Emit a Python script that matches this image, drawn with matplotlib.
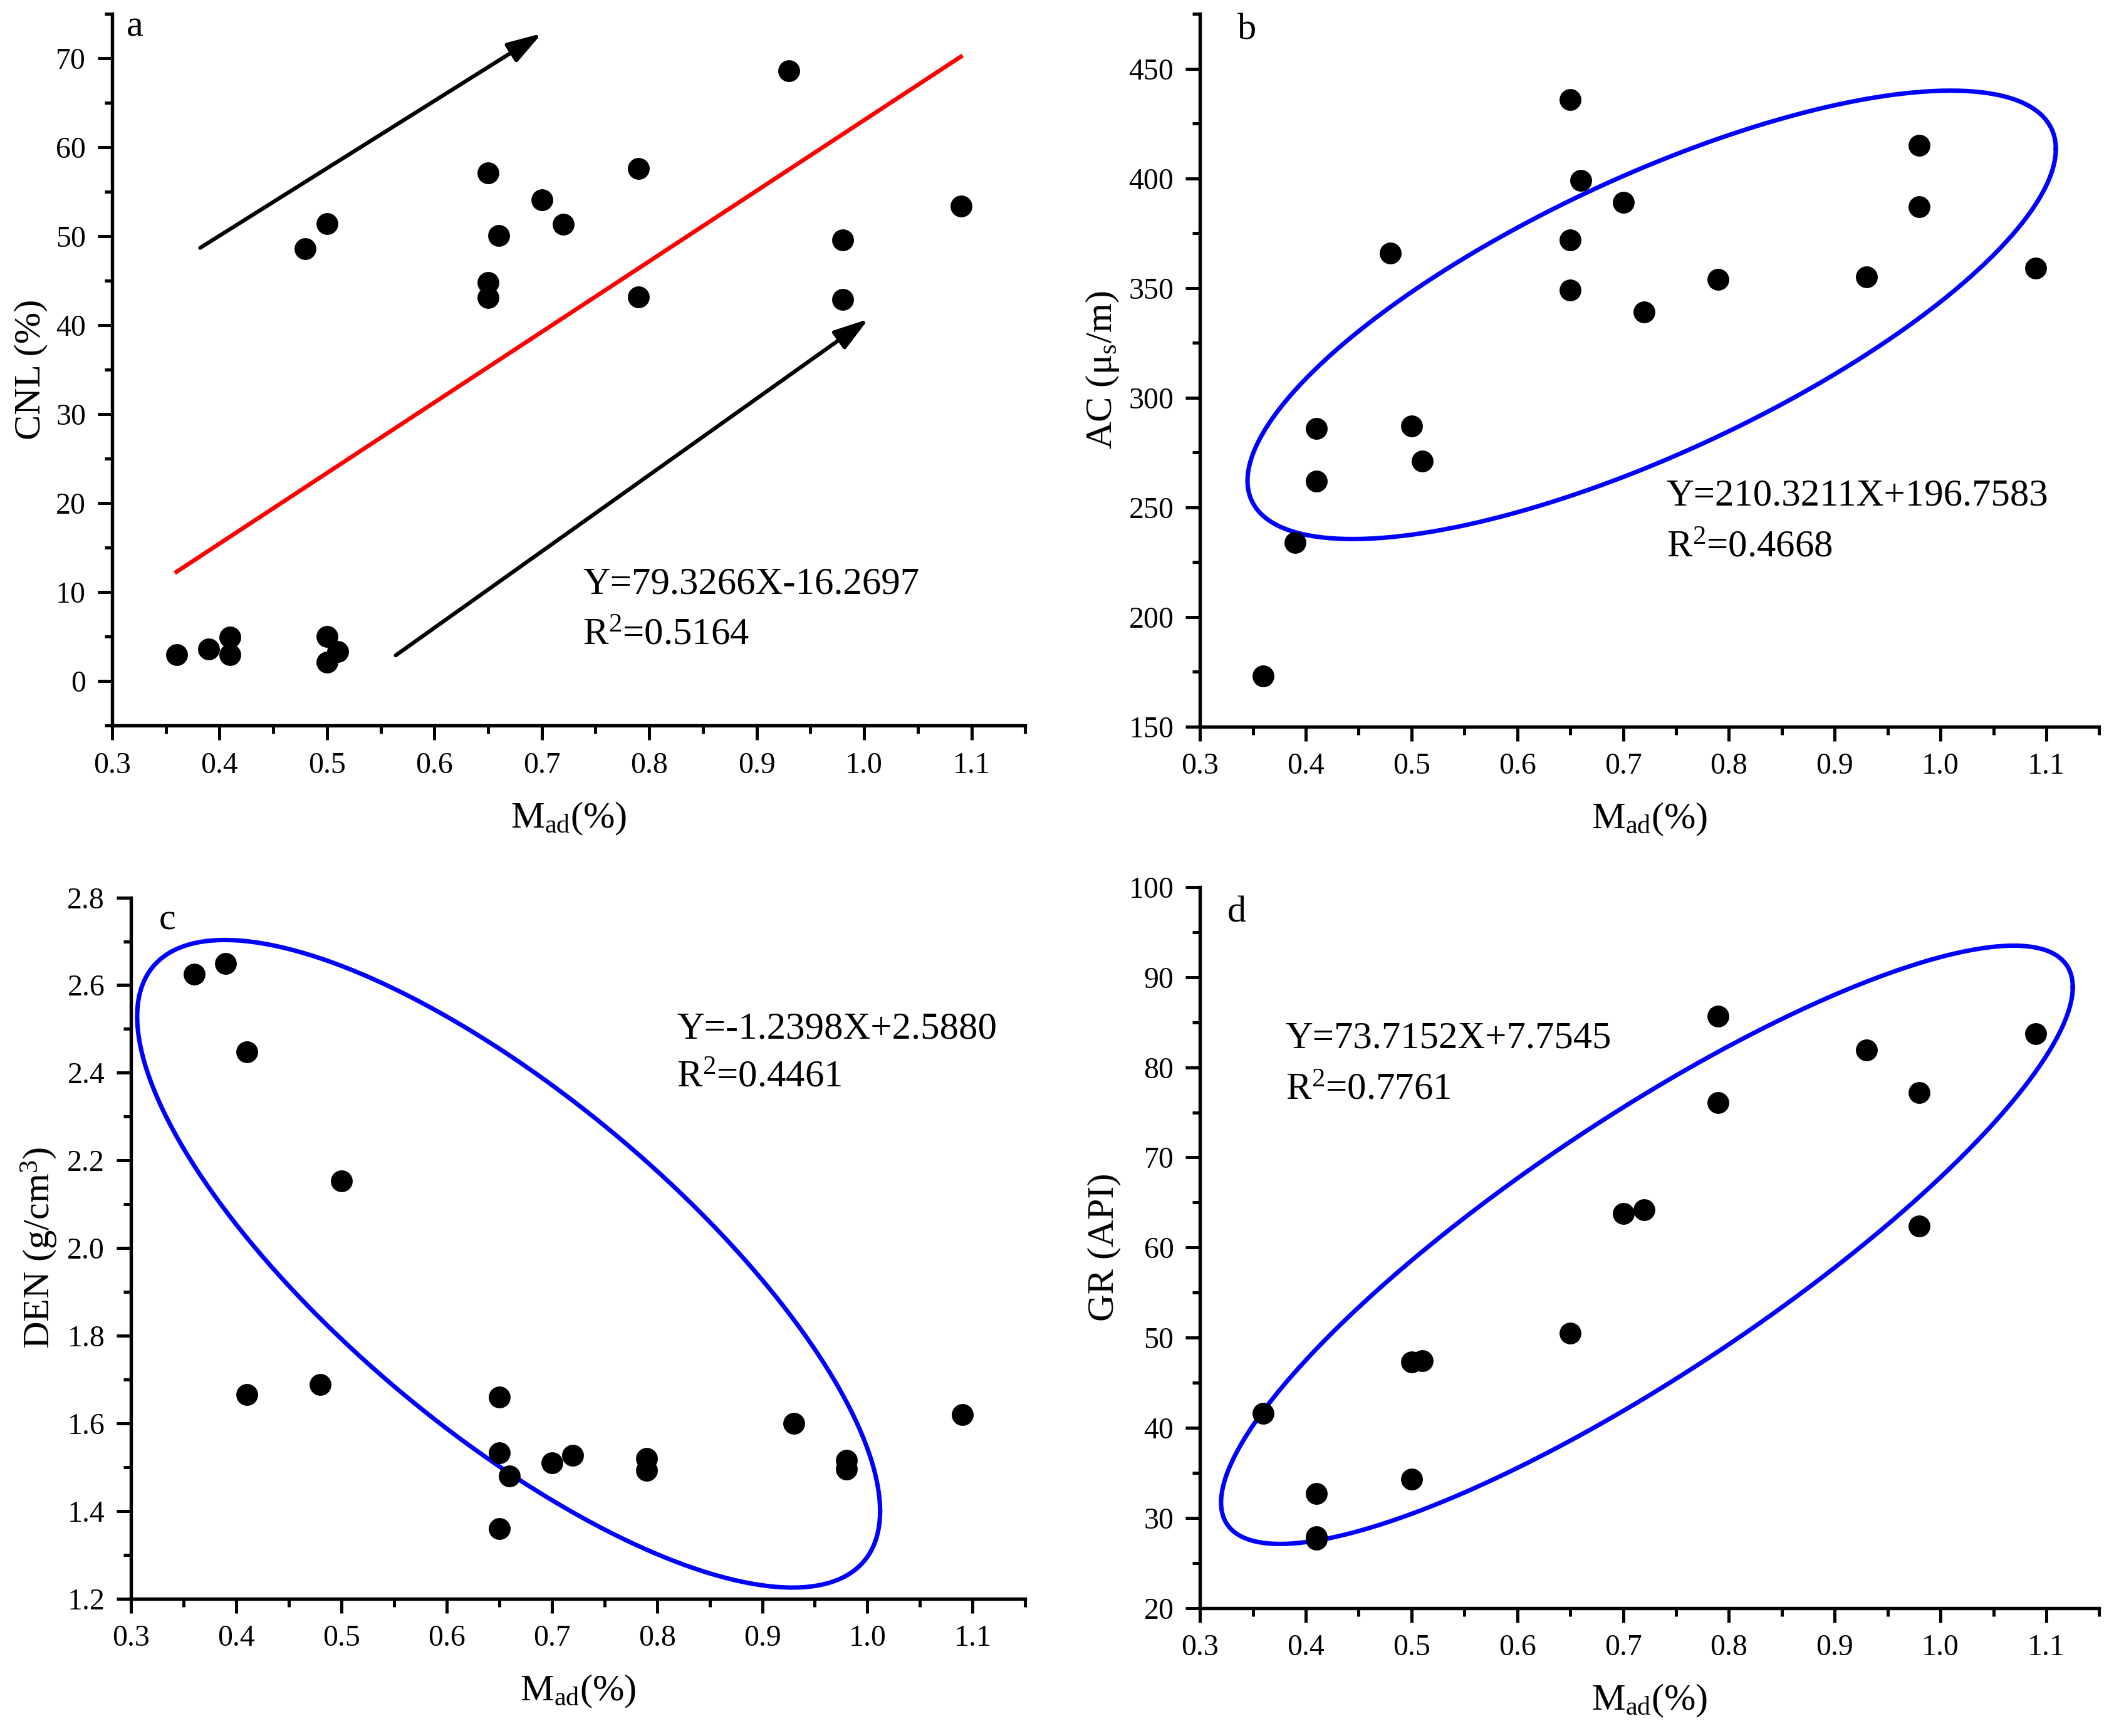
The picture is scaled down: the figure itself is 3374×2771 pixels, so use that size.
import numpy as np
import matplotlib
matplotlib.use('Agg')
import matplotlib.pyplot as plt
from matplotlib.ticker import MultipleLocator, FormatStrFormatter

plt.rcParams['font.family'] = ['Liberation Serif', 'DejaVu Serif']
plt.rcParams['mathtext.fontset'] = 'custom'
plt.rcParams['mathtext.rm'] = 'Liberation Serif'
plt.rcParams['mathtext.it'] = 'Liberation Serif:italic'

# panel a: CNL
cnl_x = [0.36, 0.39, 0.41, 0.41, 0.48, 0.50, 0.50, 0.50, 0.51, 0.65, 0.65, 0.65,
         0.66, 0.70, 0.72, 0.79, 0.79, 0.93, 0.98, 0.98, 1.09]
cnl_y = [2.95, 3.6, 4.97, 3.0, 48.6, 51.4, 5.0, 2.1, 3.3, 57.1, 44.8, 43.1,
         50.1, 54.1, 51.35, 57.6, 43.2, 68.6, 49.6, 42.9, 53.4]
cnl_fit = [79.3266, -16.2697]

# panel b: AC
ac_x = [0.36, 0.39, 0.41, 0.41, 0.48, 0.50, 0.51, 0.65, 0.65, 0.65, 0.66, 0.70,
        0.72, 0.79, 0.93, 0.98, 0.98, 1.09]
ac_y = [173, 234, 286, 262, 366, 287, 271, 436, 372, 349, 399, 389,
        339, 354, 355, 415, 387, 359]

# panel c: DEN
den_x = [0.36, 0.39, 0.41, 0.41, 0.48, 0.50, 0.65, 0.65, 0.65, 0.66, 0.70, 0.72,
         0.79, 0.79, 0.93, 0.98, 0.98, 1.09]
den_y = [2.625, 2.65, 2.448, 1.665, 1.688, 2.153, 1.66, 1.532, 1.36, 1.48, 1.51, 1.527,
         1.52, 1.492, 1.60, 1.515, 1.495, 1.62]

# panel d: GR
gr_x = [0.36, 0.41, 0.41, 0.41, 0.50, 0.50, 0.51, 0.65, 0.70, 0.72, 0.79, 0.79,
        0.93, 0.98, 0.98, 1.09]
gr_y = [41.6, 32.7, 27.9, 27.6, 47.3, 34.3, 47.4, 50.5, 63.8, 64.2, 85.7, 76.1,
        81.9, 77.2, 62.4, 83.7]

fig = plt.figure(figsize=(3374 / 300, 2771 / 300), dpi=300)

axes_pos = {
    'a': [0.053, 0.582, 0.432, 0.410],
    'b': [0.5676, 0.5815, 0.4254, 0.4105],
    'c': [0.0619, 0.0792, 0.4231, 0.4038],
    'd': [0.5676, 0.0738, 0.4254, 0.4152],
}

tick_fs = 11.5
label_fs = 14.5
eq_fs = 14.6


def style_axes(ax, ylim, ymaj, ymin, yfmt):
    ax.set_xlim(0.3, 1.15)
    ax.set_ylim(*ylim)
    ax.xaxis.set_major_locator(MultipleLocator(0.1))
    ax.xaxis.set_minor_locator(MultipleLocator(0.05))
    ax.xaxis.set_major_formatter(FormatStrFormatter('%.1f'))
    ax.yaxis.set_major_locator(MultipleLocator(ymaj))
    ax.yaxis.set_minor_locator(MultipleLocator(ymin))
    ax.yaxis.set_major_formatter(FormatStrFormatter(yfmt))
    for s in ['top', 'right']:
        ax.spines[s].set_visible(False)
    for s in ['left', 'bottom']:
        ax.spines[s].set_linewidth(1.3)
    ax.tick_params(which='major', direction='out', length=5.5, width=1.2,
                   labelsize=tick_fs, pad=4.5)
    ax.tick_params(which='minor', direction='out', length=3, width=1.2)
    ax.set_xlabel(r'M$_{\mathrm{ad}}$(%)', fontsize=label_fs, labelpad=8)


def draw_ellipse(ax, cx, ax_len, cy, ay_len, phi):
    t = np.linspace(0, 2 * np.pi, 400)
    ax.plot(cx + ax_len * np.cos(t), cy + ay_len * np.cos(t - phi),
            color='#0000FF', lw=1.7, zorder=2)


def panel_letter(ax, letter, fx, fy):
    ax.text(fx, fy, letter, transform=ax.transAxes, fontsize=label_fs,
            ha='center', va='center')


dot = dict(s=70, color='black', zorder=3, linewidths=0)

# a
ax = fig.add_axes(axes_pos['a'])
style_axes(ax, (-5, 75), 10, 5, '%d')
ax.scatter(cnl_x, cnl_y, **dot)
fx = np.array([min(cnl_x), max(cnl_x)])
ax.plot(fx, np.polyval(cnl_fit, fx), color='#FF0000', lw=1.6, zorder=2)
arrow = dict(arrowstyle='-|>,head_length=0.8,head_width=0.25', color='black',
             lw=1.5, mutation_scale=14, shrinkA=0, shrinkB=0)
ax.annotate('', xy=(0.70, 72.8), xytext=(0.382, 48.7), arrowprops=arrow)
ax.annotate('', xy=(1.004, 40.7), xytext=(0.564, 2.9), arrowprops=arrow)
ax.text(0.738, 10.9, 'Y=79.3266X-16.2697', fontsize=eq_fs, va='center')
ax.text(0.738, 5.2, r'R$^{2}$=0.5164', fontsize=eq_fs, va='center')
panel_letter(ax, 'a', 0.025, 0.981)
ax.set_ylabel('CNL (%)', fontsize=label_fs, labelpad=3)

# b
ax = fig.add_axes(axes_pos['b'])
style_axes(ax, (150, 475), 50, 25, '%d')
draw_ellipse(ax, 0.727, 0.382, 337.75, 102.25, 0.738)
ax.scatter(ac_x, ac_y, **dot)
ax.text(0.741, 255, 'Y=210.3211X+196.7583', fontsize=eq_fs, va='center')
ax.text(0.741, 231.7, r'R$^{2}$=0.4668', fontsize=eq_fs, va='center')
panel_letter(ax, 'b', 0.052, 0.977)
ax.set_ylabel(r'AC (μ$_{\mathrm{s}}$/m)', fontsize=label_fs, labelpad=3)

# c
ax = fig.add_axes(axes_pos['c'])
style_axes(ax, (1.2, 2.8), 0.2, 0.1, '%.1f')
draw_ellipse(ax, 0.659, 0.353, 1.964, 0.739, 2.44)
ax.scatter(den_x, den_y, **dot)
ax.text(0.819, 2.50, 'Y=-1.2398X+2.5880', fontsize=eq_fs, va='center')
ax.text(0.819, 2.389, r'R$^{2}$=0.4461', fontsize=eq_fs, va='center')
panel_letter(ax, 'c', 0.041, 0.967)
ax.set_ylabel(r'DEN (g/cm$^{3}$)', fontsize=label_fs, labelpad=3)

# d
ax = fig.add_axes(axes_pos['d'])
style_axes(ax, (20, 100), 10, 5, '%d')
draw_ellipse(ax, 0.7225, 0.4025, 60.3, 33.2, 0.533)
ax.scatter(gr_x, gr_y, **dot)
ax.text(0.381, 83.2, 'Y=73.7152X+7.7545', fontsize=eq_fs, va='center')
ax.text(0.381, 77.5, r'R$^{2}$=0.7761', fontsize=eq_fs, va='center')
panel_letter(ax, 'd', 0.041, 0.964)
ax.set_ylabel('GR (API)', fontsize=label_fs, labelpad=3)

fig.savefig('out.png', dpi=300)
